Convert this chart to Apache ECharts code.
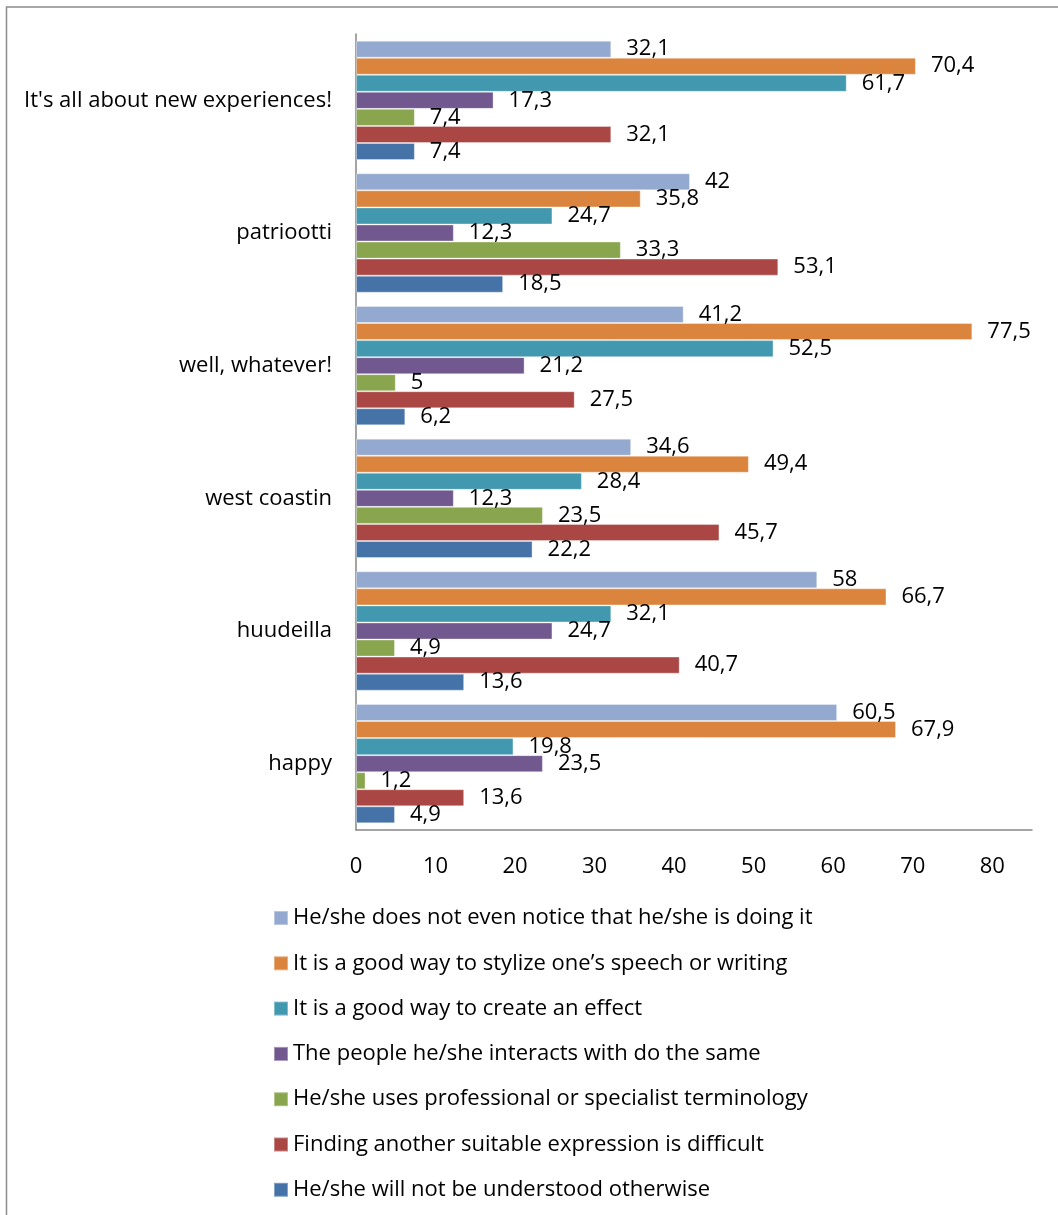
<!DOCTYPE html>
<html>
<head>
<meta charset="utf-8">
<script src="https://cdn.jsdelivr.net/npm/echarts@6/dist/echarts.min.js"></script>
<style>
  html, body { margin: 0; padding: 0; background: #fff; }
  #main { width: 1058px; height: 1215px; }
</style>
</head>
<body>
<div id="main"></div>
<script>
var categories = ["It's all about new experiences!", 'patriootti', 'well, whatever!', 'west coastin', 'huudeilla', 'happy'];

var seriesNames = [
  'He/she does not even notice that he/she is doing it',
  'It is a good way to stylize one\u2019s speech or writing',
  'It is a good way to create an effect',
  'The people he/she interacts with do the same',
  'He/she uses professional or specialist terminology',
  'Finding another suitable expression is difficult',
  'He/she will not be understood otherwise'
];

var notNotice    = [32.1, 42, 41.2, 34.6, 58, 60.5];
var stylize      = [70.4, 35.8, 77.5, 49.4, 66.7, 67.9];
var effect       = [61.7, 24.7, 52.5, 28.4, 32.1, 19.8];
var sameAsOthers = [17.3, 12.3, 21.2, 12.3, 24.7, 23.5];
var terminology  = [7.4, 33.3, 5, 23.5, 4.9, 1.2];
var noOtherWord  = [32.1, 53.1, 27.5, 45.7, 40.7, 13.6];
var notUnderstood = [7.4, 18.5, 6.2, 22.2, 13.6, 4.9];

var colors = ['#93A9CF', '#DB843D', '#4198AF', '#71588F', '#89A54E', '#AA4643', '#4572A7'];

var allValues = [notNotice, stylize, effect, sameAsOthers, terminology, noOtherWord, notUnderstood];

var font = 'Open Sans';

var series = [];
for (var i = 0; i < allValues.length; i++) {
  series.push({
    name: seriesNames[i],
    type: 'bar',
    data: allValues[i],
    barGap: '0%',
    barCategoryGap: '10%',
    itemStyle: {
      color: colors[i],
      borderColor: 'rgba(255,255,255,0.35)',
      borderWidth: 1
    },
    label: {
      show: true,
      position: 'right',
      distance: 15,
      color: '#000',
      fontFamily: font,
      fontSize: 22,
      formatter: function (p) { return String(p.value).replace('.', ','); }
    }
  });
}

var myChart = echarts.init(document.getElementById('main'));
var option = {
  animation: false,
  color: colors,
  graphic: [{
    type: 'rect',
    shape: { x: 6.5, y: 7, width: 1200, height: 1400 },
    style: { fill: 'none', stroke: '#8c8c8c', lineWidth: 1.5 },
    silent: true
  }],
  grid: {
    left: 356,
    right: 26,
    top: 34,
    bottom: 385
  },
  xAxis: {
    type: 'value',
    min: 0,
    max: 85,
    interval: 10,
    axisLine: { show: true, lineStyle: { color: '#868686', width: 1.5 } },
    axisTick: { show: false },
    splitLine: { show: false },
    axisLabel: { color: '#000', fontFamily: font, fontSize: 22, margin: 26, showMaxLabel: false }
  },
  yAxis: {
    type: 'category',
    inverse: true,
    data: categories,
    axisLine: { show: true, lineStyle: { color: '#868686', width: 1.5 } },
    axisTick: { show: false },
    axisLabel: { color: '#000', fontFamily: font, fontSize: 22, margin: 24 }
  },
  legend: {
    orient: 'vertical',
    left: 273,
    top: 906,
    padding: 0,
    itemWidth: 14,
    itemHeight: 14,
    itemGap: 21.3,
    icon: 'rect',
    selectedMode: false,
    textStyle: { color: '#000', fontFamily: font, fontSize: 22, lineHeight: 24 },
    data: seriesNames
  },
  series: series
};

option && myChart.setOption(option);
</script>
</body>
</html>
